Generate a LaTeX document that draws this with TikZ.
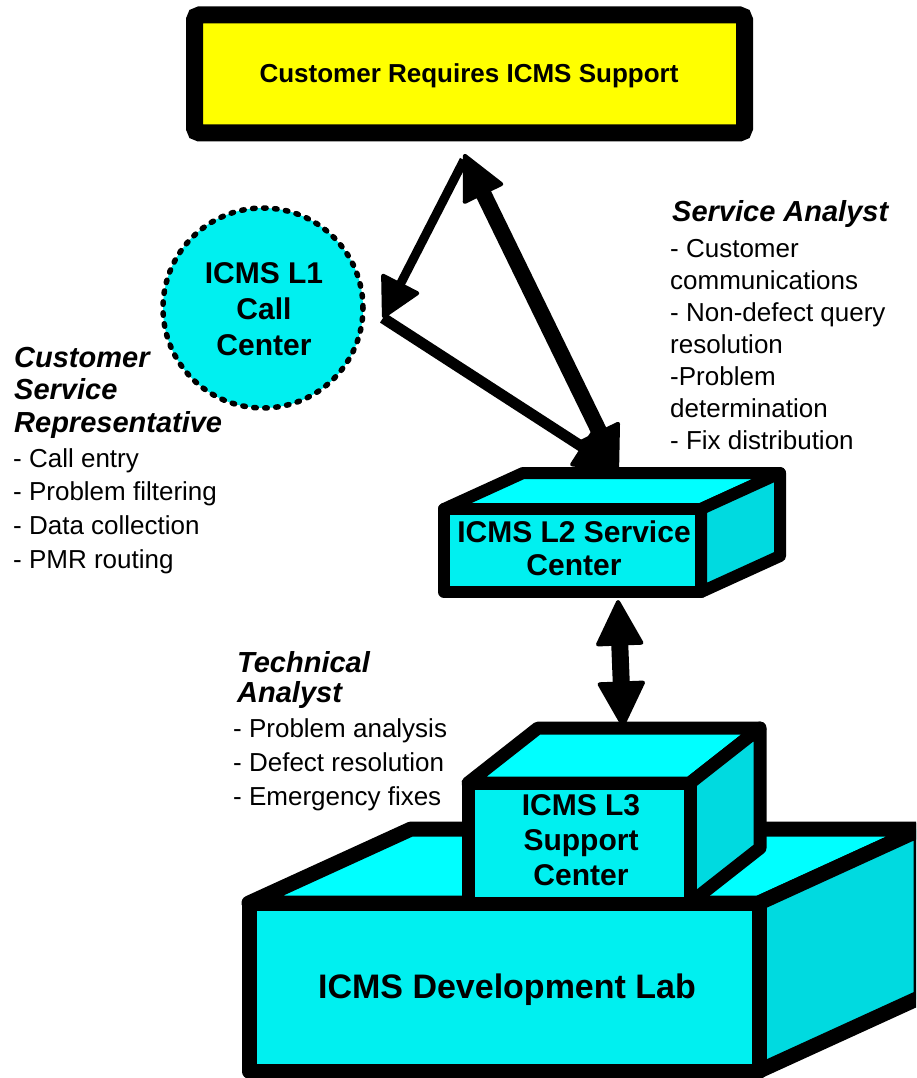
\documentclass[tikz,border=0pt]{standalone}
\usepackage{fontspec}
\setmainfont{Liberation Sans}
\usetikzlibrary{arrows.meta}
\definecolor{cyTop}{RGB}{0,255,255}
\definecolor{cyFront}{RGB}{0,240,240}
\definecolor{cySide}{RGB}{0,218,224}
\definecolor{yel}{RGB}{255,255,0}
\newcommand{\tlines}[1]{\begin{tabular}[t]{@{}l@{}}#1\end{tabular}}
\newcommand{\clines}[1]{\begin{tabular}[t]{@{}c@{}}#1\end{tabular}}
\tikzset{
  face/.style={draw=black, line join=round},
  lbl/.style={inner sep=0pt, anchor=base west},
  clbl/.style={inner sep=0pt, anchor=base},
  hd/.style={font=\bfseries\itshape\fontsize{29}{32.5}\selectfont},
  boxfont/.style={font=\bfseries\fontsize{30}{#1}\selectfont},
}
\begin{document}
\begin{tikzpicture}[x=1pt,y=-1pt]
\useasboundingbox (0,0) rectangle (916,1078);
\clip (0,0) rectangle (916,1078);

% top box
\node[draw=black, line width=17pt, fill=yel, rounded corners=5pt,
      minimum width=550pt, minimum height=118pt, inner sep=0pt] (req) at (469.5,74) {};
\node[clbl, font=\bfseries\fontsize{26}{30}\selectfont] (reqt) at (469,83) {Customer Requires ICMS Support};

% L1 circle
\node[circle, minimum size=200pt, inner sep=0pt, fill=cyFront, draw=black, line width=5.5pt,
      dash pattern=on 2.5pt off 8.5pt, line cap=round] (l1) at (263,308) {};
\node[clbl, boxfont=36] (l1t) at (264,283) {\clines{ICMS L1\\Call\\Center}};

% L2 box
\filldraw[face, line width=12pt, fill=cyTop] (444,509) -- (523,473) -- (780,473) -- (701,509) -- cycle;
\filldraw[face, line width=12pt, fill=cySide] (701,509) -- (780,473) -- (780,556) -- (701,592) -- cycle;
\filldraw[face, line width=12pt, fill=cyFront] (444,509) rectangle (701,592);
\node[clbl, boxfont=33] (l2t) at (574,542) {\clines{ICMS L2 Service\\Center}};

% Development lab
\filldraw[face, line width=15pt, fill=cyTop] (249,903) -- (411,829) -- (921,829) -- (759,903) -- cycle;
\filldraw[face, line width=15pt, fill=cySide] (759,903) -- (921,829) -- (921,997) -- (759,1071) -- cycle;
\filldraw[face, line width=15pt, fill=cyFront] (249,903) rectangle (759,1071);
\node[clbl, font=\bfseries\fontsize{34}{40}\selectfont] (devt) at (507,998) {ICMS Development Lab};

% L3 box
\filldraw[face, line width=13pt, fill=cyTop] (468,783) -- (538,728) -- (760,728) -- (690,783) -- cycle;
\filldraw[face, line width=13pt, fill=cySide] (690,783) -- (760,728) -- (760,848) -- (690,903) -- cycle;
\filldraw[face, line width=13pt, fill=cyFront] (468,783) rectangle (690,903);
\node[clbl, boxfont=35] (l3t) at (581,815) {\clines{ICMS L3\\Support\\Center}};

% text blocks
\node[lbl, hd] (csrh) at (14,367) {\tlines{Customer\\Service\\Representative}};
\node[lbl, font=\fontsize{26}{33.7}\selectfont] (csrl) at (13,467)
  {\tlines{- Call entry\\- Problem filtering\\- Data collection\\- PMR routing}};

\node[lbl, hd] (sah) at (672,222) {Service Analyst};
\node[lbl, font=\fontsize{26}{32}\selectfont] (sal) at (670,257)
  {\tlines{- Customer\\communications\\- Non-defect query\\resolution\\-Problem\\determination\\- Fix distribution}};

\node[lbl, font=\bfseries\itshape\fontsize{29}{30.5}\selectfont] (tah) at (237,672) {\tlines{Technical\\Analyst}};
\node[lbl, font=\fontsize{26}{34}\selectfont] (tal) at (233,737)
  {\tlines{- Problem analysis\\- Defect resolution\\- Emergency fixes}};

% connector end points
\coordinate (topTip) at (464,154);
\coordinate (topStart) at (464,160);
\coordinate (l1Tip) at (383,318);
\coordinate (l2Tip) at (618,470);
\coordinate (l2Bot) at (618,600);
\coordinate (l3Top) at (623,727);

% arrows
\draw[line width=9pt, -{Triangle[length=42pt,width=44pt,line width=4pt,round]}] (topStart) -- (l1Tip);
\draw[line width=11pt, -{Triangle[length=46pt,width=46pt,line width=4pt,round]}] (l1Tip) -- (l2Tip);
\draw[line width=16pt, {Triangle[length=48pt,width=46pt,line width=4pt,round]}-{Triangle[length=46pt,width=46pt,line width=4pt,round]}] (topTip) -- (l2Tip);
\draw[line width=17pt, {Triangle[length=48pt,width=49pt,line width=4pt,round]}-{Triangle[length=48pt,width=49pt,line width=4pt,round]}] (l2Bot) -- (l3Top);
\end{tikzpicture}
\end{document}
